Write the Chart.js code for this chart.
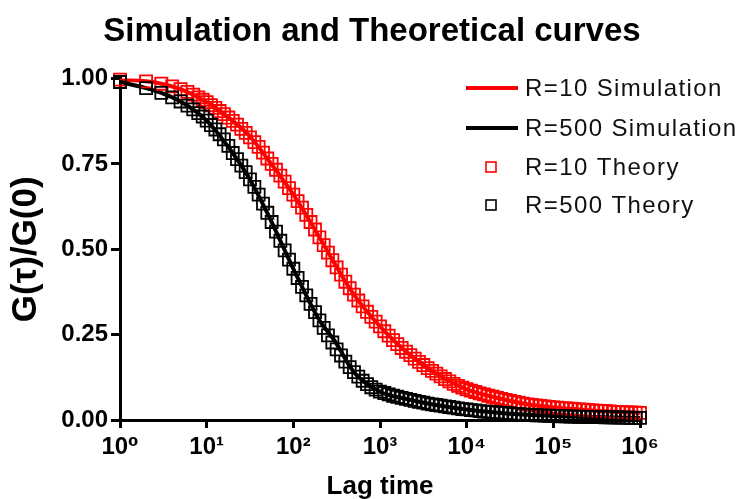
<!DOCTYPE html>
<html><head><meta charset="utf-8">
<script src="https://cdn.jsdelivr.net/npm/chart.js@4/dist/chart.umd.min.js"></script>
<style>html,body{margin:0;padding:0;background:#fff}#wrap{width:744px;height:499px}</style>
</head><body><div id="wrap"><canvas id="c" width="744" height="499"></canvas></div>
<script>
const chartTitle = 'Simulation and Theoretical curves';
const xTitle = 'Lag time';
const yTitle = 'G(τ)/G(0)';
const seriesLabels = ['R=10 Simulation', 'R=500 Simulation', 'R=10 Theory', 'R=500 Theory'];
const xTickValues = [1, 10, 100, 1000, 10000, 100000, 1000000];
const xTickLabels = ['10⁰', '10¹', '10²', '10³', '10⁴', '10⁵', '10⁶'];
const yTickValues = [0, 0.25, 0.5, 0.75, 1];

const lags = [1,2,3,4,5,6,7,8,9,10,
  11.2,12.6,14.1,15.8,17.8,20,22.4,25.1,28.2,31.6,35.5,39.8,44.7,50.1,56.2,63.1,70.8,79.4,89.1,100,
  112,126,141,158,178,200,224,251,282,316,355,398,447,501,562,631,708,794,891,1000,
  1122,1259,1413,1585,1778,1995,2239,2512,2818,3162,3548,3981,4467,5012,5623,6310,7079,7943,8913,10000,
  11220,12590,14130,15850,17780,19950,22390,25120,28180,31620,35480,39810,44670,50120,56230,63100,70790,79430,89130,100000,
  112200,125900,141300,158500,177800,199500,223900,251200,281800,316200,354800,398100,446700,501200,562300,631000,707900,794300,891300,1000000];

const theoryR10 = [0.997,0.992,0.985,0.977,0.969,0.961,0.953,0.945,0.938,0.931,
  .922,.914,.905,.896,.886,.876,.865,.853,.841,.828,.814,.800,.783,.766,.750,.733,.716,.698,.679,.660,
  .641,.622,.601,.580,.558,.535,.512,.490,.468,.447,.426,.405,.386,.367,.350,.333,.317,.302,.288,.274,
  .260,.247,.234,.222,.211,.200,.190,.180,.170,.161,.152,.144,.136,.128,.120,.113,.106,.100,.095,.090,
  .086,.082,.078,.075,.071,.068,.065,.062,.059,.056,.053,.051,.048,.046,.0445,.043,.0415,.040,.0385,.037,
  .036,.035,.034,.033,.032,.031,.030,.029,.028,.027,.0265,.026,.025,.024,.0235,.023,.0225,.022,.0215,.021];

const theoryR500 = [0.990,0.972,0.958,0.945,0.933,0.921,0.910,0.899,0.889,0.877,
  .864,.851,.837,.822,.803,.782,.764,.745,.726,.705,.683,.660,.634,.607,.580,.552,.525,.497,.470,.443,
  .416,.390,.365,.340,.316,.292,.270,.248,.227,.207,.189,.171,.155,.140,.127,.115,.105,.096,.089,.083,
  .079,.075,.071,.068,.065,.062,.059,.056,.053,.051,.048,.046,.044,.042,.040,.038,.036,.034,.032,.031,
  .029,.028,.026,.025,.024,.023,.022,.021,.020,.019,.018,.017,.016,.0155,.015,.014,.0135,.013,.0125,.012,
  .0115,.011,.0105,.010,.0098,.0095,.0093,.009,.0088,.0085,.0083,.008,.0078,.0075,.0073,.007,.0068,.0065,.0063,.006];

const simLags = [1,2,3,5,10,20,30,50,100,200,300,500,1000,2000,3000,5000,10000,20000,50000,100000,200000,500000,1000000];
const simR10 = [.997,.992,.985,.969,.931,.876,.837,.766,.660,.535,.458,.367,.274,.200,.165,.128,.090,.068,.046,.037,.031,.024,.021];
const simR500 = [.990,.972,.958,.933,.877,.782,.714,.607,.443,.292,.232,.140,.083,.062,.052,.042,.031,.023,.0155,.012,.0095,.0075,.006];

const RED = '#ff0000';
const BLACK = '#000000';
const FONT = "'Liberation Sans', Arial, 'DejaVu Sans', sans-serif";

const pts = (xs, ys) => xs.map((x, i) => ({x: x, y: ys[i]}));

const legendPlugin = {
  id: 'sideLegend',
  afterDraw(chart) {
    const ctx = chart.ctx;
    const rows = [88, 128, 167, 205];
    ctx.save();
    chart.data.datasets.forEach((ds, i) => {
      const y = rows[i];
      ctx.strokeStyle = ds.borderColor;
      if (ds.showLine !== false) {
        ctx.lineWidth = 4;
        ctx.beginPath();
        ctx.moveTo(466, y);
        ctx.lineTo(518, y);
        ctx.stroke();
      } else {
        ctx.lineWidth = 1.6;
        ctx.strokeRect(486, y - 5, 10, 10);
      }
      ctx.fillStyle = '#111111';
      ctx.font = "24px " + FONT;
      try { ctx.letterSpacing = '1.4px'; } catch (e) {}
      ctx.textBaseline = 'middle';
      ctx.textAlign = 'left';
      ctx.fillText(ds.label, 525, y + 1);
      try { ctx.letterSpacing = '0px'; } catch (e) {}
    });
    ctx.restore();
  }
};

new Chart(document.getElementById('c'), {
  type: 'line',
  data: {
    datasets: [
      {label: seriesLabels[0], data: pts(simLags, simR10), borderColor: RED, backgroundColor: RED,
       borderWidth: 4, pointRadius: 0, cubicInterpolationMode: 'monotone', order: 4},
      {label: seriesLabels[1], data: pts(simLags, simR500), borderColor: BLACK, backgroundColor: BLACK,
       borderWidth: 4, pointRadius: 0, cubicInterpolationMode: 'monotone', order: 3},
      {label: seriesLabels[2], data: pts(lags, theoryR10), borderColor: RED, backgroundColor: 'rgba(0,0,0,0)',
       showLine: false, pointStyle: 'rect', pointRadius: 8.5, pointBorderWidth: 1.8, borderWidth: 1.8, clip: false, order: 2},
      {label: seriesLabels[3], data: pts(lags, theoryR500), borderColor: BLACK, backgroundColor: 'rgba(0,0,0,0)',
       showLine: false, pointStyle: 'rect', pointRadius: 8.5, pointBorderWidth: 1.8, borderWidth: 1.8, clip: false, order: 1}
    ]
  },
  options: {
    responsive: false,
    animation: false,
    devicePixelRatio: 1,
    events: [],
    layout: {padding: {left: 0, right: 0, top: 0, bottom: 0}},
    plugins: {
      legend: {display: false},
      tooltip: {enabled: false},
      title: {display: true, text: chartTitle, color: '#000',
        font: {family: FONT, size: 33, weight: 'bold'}, padding: {top: 12, bottom: 27}}
    },
    scales: {
      x: {
        type: 'logarithmic', min: 1, max: 1000000,
        afterBuildTicks: s => { s.ticks = xTickValues.map(v => ({value: v})); },
        afterFit: s => { s.height = 79; },
        ticks: {autoSkip: false, maxRotation: 0, color: '#000', padding: 5,
          font: {family: FONT, size: 24, weight: 'bold'},
          callback: v => xTickLabels[xTickValues.indexOf(v)]},
        grid: {drawOnChartArea: false, drawTicks: true, tickLength: 8, lineWidth: 3, color: '#000'},
        border: {display: true, width: 3, color: '#000'},
        title: {display: true, text: xTitle, color: '#000',
          font: {family: FONT, size: 26, weight: 'bold'}, padding: {top: 0, bottom: -3}}
      },
      y: {
        type: 'linear', min: 0, max: 1,
        afterBuildTicks: s => { s.ticks = yTickValues.map(v => ({value: v})); },
        afterFit: s => { s.width = 120; },
        ticks: {color: '#000', padding: 3, font: {family: FONT, size: 24, weight: 'bold'},
          callback: v => Number(v).toFixed(2)},
        grid: {drawOnChartArea: false, drawTicks: true, tickLength: 9, lineWidth: 3, color: '#000'},
        border: {display: true, width: 3, color: '#000'},
        title: {display: true, text: yTitle, color: '#000',
          font: {family: FONT, size: 35, weight: 'bold'}, padding: {top: 5, bottom: 0}}
      },
      spacer: {
        type: 'linear', position: 'right', display: true,
        afterFit: s => { s.width = 104; },
        ticks: {display: false},
        grid: {display: false, drawTicks: false},
        border: {display: false}
      }
    }
  },
  plugins: [legendPlugin]
});
</script>
</body></html>
